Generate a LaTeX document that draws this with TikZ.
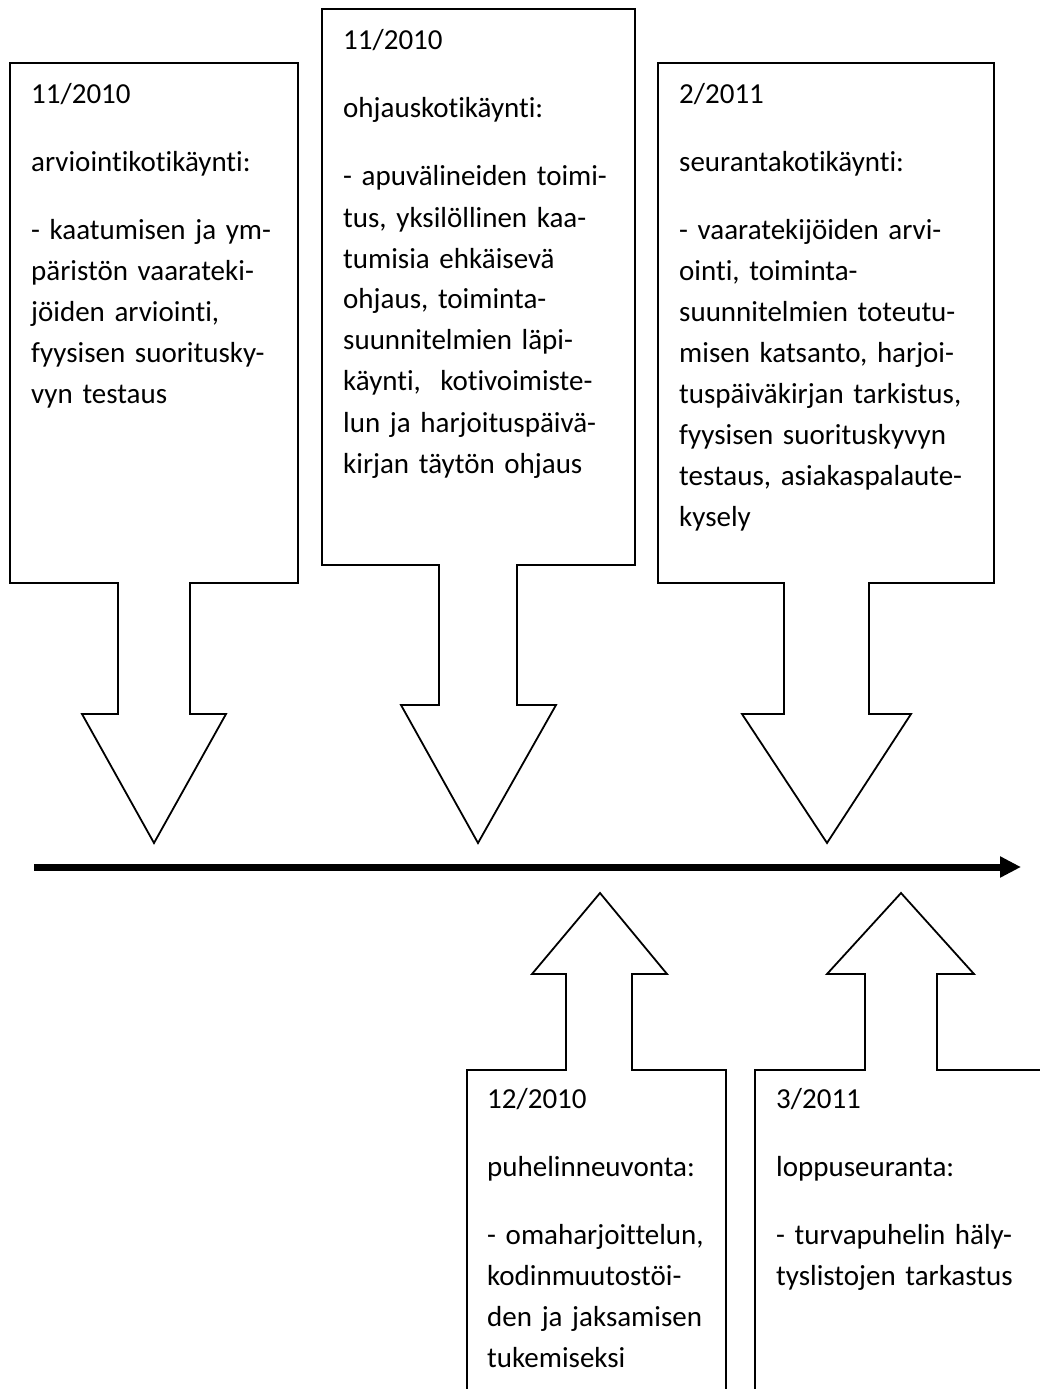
\documentclass[tikz,border=0pt]{standalone}
\usepackage{fontspec}
\setmainfont{Carlito}[Ligatures=NoCommon]
\usetikzlibrary{arrows.meta}
\tikzset{
  callout/.style={draw=black, line width=1.8pt, line join=miter, fill=white},
  txt/.style={anchor=base west, inner sep=0pt, text width=340pt, align=left,
    font=\fontsize{29}{41}\selectfont},
  timeline/.style={line width=7pt, -{Triangle[length=21pt,width=20pt]}}
}
\newcommand{\pgap}{\\[27pt]}
\begin{document}
\begin{tikzpicture}[x=1pt,y=-1pt]
\useasboundingbox (0,0) rectangle (1040,1389);
% callout 1
\draw[callout] (10,63) -- (298,63) -- (298,583) -- (190,583) -- (190,714) -- (226,714)
  -- (154,843) -- (82,714) -- (118,714) -- (118,583) -- (10,583) -- cycle;
% callout 2
\draw[callout] (322,9) -- (635,9) -- (635,565) -- (517,565) -- (517,705) -- (556,705)
  -- (478,843) -- (401,705) -- (439,705) -- (439,565) -- (322,565) -- cycle;
% callout 3
\draw[callout] (658,63) -- (994,63) -- (994,583) -- (869,583) -- (869,714) -- (911,714)
  -- (827,843) -- (742,714) -- (784,714) -- (784,583) -- (658,583) -- cycle;
% bottom callout 4
\draw[callout] (467,1389) -- (467,1070) -- (566,1070) -- (566,974) -- (532,974)
  -- (600,893) -- (667,974) -- (632,974) -- (632,1070) -- (726,1070) -- (726,1389);
% bottom callout 5
\draw[callout] (755,1389) -- (755,1070) -- (865,1070) -- (865,974) -- (827,974)
  -- (901,893) -- (974,974) -- (937,974) -- (937,1070) -- (1045,1070);
% timeline
\coordinate (tl0) at (34,867);
\coordinate (tl1) at (1021,867);
\draw[timeline] (tl0) -- (tl1);
% texts
\node[txt] (t1) at (31,103) {11/2010\pgap
arviointikotikäynti:\pgap
- kaatumisen ja ym-\\
päristön vaarateki-\\
jöiden arviointi,\\
fyysisen suoritusky-\\
vyn testaus};
\node[txt] (t2) at (343,50) {11/2010\pgap
ohjauskotikäynti:\pgap
- apuvälineiden toimi-\\
tus, yksilöllinen kaa-\\
tumisia ehkäisevä\\
ohjaus, toiminta-\\
suunnitelmien läpi-\\
käynti,\ \ kotivoimiste-\\
lun ja harjoituspäivä-\\
kirjan täytön ohjaus};
\node[txt] (t3) at (679,103) {2/2011\pgap
seurantakotikäynti:\pgap
- vaaratekijöiden arvi-\\
ointi, toiminta-\\
suunnitelmien toteutu-\\
misen katsanto, harjoi-\\
tuspäiväkirjan tarkistus,\\
fyysisen suorituskyvyn\\
testaus, asiakaspalaute-\\
kysely};
\node[txt] (t4) at (487,1108) {12/2010\pgap
puhelinneuvonta:\pgap
- omaharjoittelun,\\
kodinmuutostöi-\\
den ja jaksamisen\\
tukemiseksi};
\node[txt] (t5) at (776,1108) {3/2011\pgap
loppuseuranta:\pgap
- turvapuhelin häly-\\
tyslistojen tarkastus};
\end{tikzpicture}
\end{document}
